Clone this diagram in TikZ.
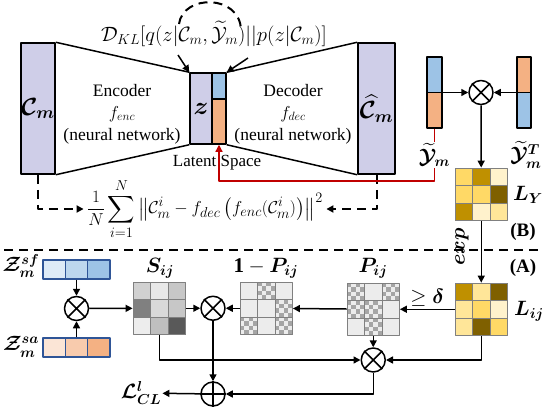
\documentclass[tikz,border=0pt]{standalone}
\usepackage{amsmath,amssymb}
\usepackage{fontspec}
\setmainfont{Liberation Serif}
\usetikzlibrary{arrows.meta,positioning,calc}
\definecolor{latLav}{RGB}{207,206,232}
\definecolor{vecBlue}{RGB}{157,195,230}
\definecolor{vecOrange}{RGB}{244,177,131}
\definecolor{gold0}{RGB}{255,242,204}
\definecolor{gold1}{RGB}{255,230,153}
\definecolor{gold2}{RGB}{255,217,102}
\definecolor{gold3}{RGB}{191,144,0}
\definecolor{gold4}{RGB}{127,96,0}
\definecolor{blue1}{RGB}{222,235,247}
\definecolor{blue2}{RGB}{189,215,238}
\definecolor{blue3}{RGB}{157,195,230}
\definecolor{org1}{RGB}{251,229,214}
\definecolor{org2}{RGB}{248,203,173}
\definecolor{org3}{RGB}{244,177,131}
\definecolor{navy}{RGB}{47,85,151}
\definecolor{gridGray}{RGB}{128,128,128}
\definecolor{cellGray}{RGB}{236,236,236}
\definecolor{chkGray}{RGB}{165,165,165}
\definecolor{redLine}{RGB}{192,0,0}
% cells of a 3x3 matrix, top-left corner #1,#2
\newcommand{\matcells}[3]{%
  \foreach \cx/\cy/\cc in {#3}
    \fill[fill=\cc] ({#1+\cx*17.5},{#2+\cy*17.5}) rectangle ++(17.5,17.5);
}
\newcommand{\chkcells}[3]{%
  \foreach \cx/\cy in {#3} {
    \foreach \a/\b in {0/0,2/0,1/1,3/1,0/2,2/2,1/3,3/3}
      \fill[chkGray] ({#1+\cx*17.5+\a*4.375},{#2+\cy*17.5+\b*4.375}) rectangle ++(4.375,4.375);
  }
}
\newcommand{\matlines}[2]{%
  \foreach \k in {1,2} {
    \draw[gridGray, line width=0.8pt] ({#1+\k*17.5},#2) -- ++(0,52.5);
    \draw[gridGray, line width=0.8pt] (#1,{#2+\k*17.5}) -- ++(52.5,0);
  }
}
\newcommand{\crossin}[1]{\draw[line width=1.5pt] (#1.north west) -- (#1.south east) (#1.north east) -- (#1.south west);}
\newcommand{\plusin}[1]{\draw[line width=1.5pt] (#1.north) -- (#1.south) (#1.east) -- (#1.west);}

\begin{document}
\begin{tikzpicture}[x=1pt, y=-1pt, line join=round,
    font=\fontsize{17}{21}\selectfont,
    lab/.style={font=\fontsize{21}{24}\selectfont, inner sep=1pt},
    box/.style={draw, line width=1.5pt, inner sep=0pt},
    latbox/.style={box, fill=latLav, font=\fontsize{23}{26}\selectfont},
    mulnode/.style={draw, circle, line width=1.5pt, minimum size=24pt, inner sep=0pt},
    gridnode/.style={draw=gridGray, line width=0.8pt, minimum size=52.5pt, inner sep=0pt},
    arr/.style={line width=1.5pt, -{Triangle[length=7pt,width=7pt]}},
    dashline/.style={line width=2pt, dash pattern=on 9pt off 6pt},
    dasharr/.style={dashline, -{Triangle[length=7pt,width=7pt]}}]
    \useasboundingbox (0,0) rectangle (550,410);

    % autoencoder
    \node[latbox, minimum width=34pt, minimum height=131pt] (cm) at (38,108.5) {$\boldsymbol{\mathcal{C}_m}$};
    \node[latbox, minimum width=22pt, minimum height=71pt] (z) at (201,108.5) {$\boldsymbol{z}$};
    \fill[vecBlue] (212,73) rectangle (226,99);
    \fill[vecOrange] (212,99) rectangle (226,144);
    \node[box, minimum width=14pt, minimum height=71pt] (zy) at (219,108.5) {};
    \draw[line width=1.5pt] (212,99) -- (226,99);
    \node[latbox, minimum width=37pt, minimum height=131pt] (hcm) at (376.5,108.5) {$\boldsymbol{\widehat{\mathcal{C}}_m}$};
    \draw[line width=1.5pt] (cm.north east) -- (z.north west) (cm.south east) -- (z.south west);
    \draw[line width=1.5pt] (zy.north east) -- (hcm.north west) (zy.south east) -- (hcm.south west);
    \node[align=center, font=\fontsize{17.5}{22}\selectfont] (enc) at (122,114) {Encoder\\$f_{enc}$\\(neural network)};
    \node[align=center, font=\fontsize{17.5}{22}\selectfont] (dec) at (293,114) {Decoder\\$f_{dec}$\\(neural network)};
    \node (lat) at (217,163) {Latent Space};

    % KL term
    \coordinate (klL) at (179,24);
    \coordinate (klR) at (241,30);
    \draw[dashline] (klL) .. controls (183,-6) and (240,-6) .. (klR);
    \node[font=\fontsize{20}{24}\selectfont] (kl) at (214,34) {$\mathcal{D}_{KL}[q(z|\mathcal{C}_m,\widetilde{\mathcal{Y}}_m)||p(z|\mathcal{C}_m)]$};
    \coordinate (kla) at (178,55);
    \coordinate (klb) at (248,58);
    \draw[arr] (kla) -- (z.north west);
    \draw[arr] (klb) -- (zy.north east);

    % reconstruction term
    \node[font=\fontsize{19}{23}\selectfont] (rec) at (205,209) {$\displaystyle\frac{1}{N}\sum_{i=1}^{N}\left\|\mathcal{C}_m^i-f_{dec}\left(f_{enc}(\mathcal{C}_m^i)\right)\right\|^2$};
    \draw[dasharr] (cm.south) |- (rec.west);
    \draw[dasharr] (hcm.south) |- (rec.east);

    % label vectors
    \fill[vecBlue] (427,57) rectangle (442,92.5);
    \fill[vecOrange] (427,92.5) rectangle (442,128);
    \node[box, minimum width=15pt, minimum height=71pt] (ym) at (434.5,92.5) {};
    \draw[line width=1.5pt] (ym.west) -- (ym.east);
    \fill[vecOrange] (517,57) rectangle (531,92.5);
    \fill[vecBlue] (517,92.5) rectangle (531,128);
    \node[box, minimum width=14pt, minimum height=71pt] (ymt) at (524,92.5) {};
    \draw[line width=1.5pt] (ymt.west) -- (ymt.east);
    \node[lab] (ymlab) at (434.5,155) {$\boldsymbol{\widetilde{\mathcal{Y}}_m}$};
    \node[lab] (ymtlab) at (526,155) {$\boldsymbol{\widetilde{\mathcal{Y}}_m^T}$};
    \node[mulnode] (mY) at (481,92.5) {};
    \crossin{mY}
    \draw[arr] (ym.east) -- (mY.west);
    \draw[arr] (ymt.west) -- (mY.east);
    \coordinate (rc) at (219,181);
    \draw[redLine, line width=1.2pt] (ym.south) -- (ymlab.north);
    \draw[redLine, line width=1.2pt, -{Triangle[length=7pt,width=7pt]}] (ymlab.south) |- (rc) -- (zy.south);

    % L_Y
    \matcells{455}{168}{0/0/gold2, 1/0/gold3, 2/0/gold0, 0/1/gold2, 1/1/gold2, 2/1/gold4, 0/2/gold3, 1/2/gold0, 2/2/gold1}
    \matlines{455}{168}
    \node[gridnode] (LY) at (481.25,194.25) {};
    \node[lab] (LYlab) at (528,195) {$\boldsymbol{L_Y}$};
    \draw[arr] (mY) -- (LY);

    % separator
    \coordinate (sepL) at (4,250);
    \coordinate (sepR) at (541,250);
    \draw[dashline] (sepL) -- (sepR);
    \node[font=\fontsize{19}{22}\selectfont] (Blab) at (523,232) {\textbf{(B)}};
    \node[font=\fontsize{19}{22}\selectfont] (Alab) at (523,268) {\textbf{(A)}};

    % L_ij
    \matcells{455}{283}{0/0/gold3, 1/0/gold1, 2/0/gold4, 0/1/gold1, 1/1/gold2, 2/1/gold0, 0/2/gold1, 1/2/gold4, 2/2/gold2}
    \matlines{455}{283}
    \node[gridnode] (L) at (481.25,309.25) {};
    \node[lab] (Llab) at (529,311) {$\boldsymbol{L_{ij}}$};
    \node[lab, rotate=90] (explab) at (462,247) {$\boldsymbol{exp}$};
    \draw[arr] (LY) -- (L);

    % P_ij and 1-P_ij
    \matcells{347}{283}{0/0/cellGray, 1/0/cellGray, 2/0/cellGray, 0/1/cellGray, 1/1/cellGray, 2/1/cellGray, 0/2/cellGray, 1/2/cellGray, 2/2/cellGray}
    \chkcells{347}{283}{0/0, 2/0, 0/1, 1/1, 1/2}
    \matlines{347}{283}
    \node[gridnode] (P) at (373.25,309.25) {};
    \node[lab] (Plab) at (373,268) {$\boldsymbol{P_{ij}}$};
    \matcells{240}{282}{0/0/cellGray, 1/0/cellGray, 2/0/cellGray, 0/1/cellGray, 1/1/cellGray, 2/1/cellGray, 0/2/cellGray, 1/2/cellGray, 2/2/cellGray}
    \chkcells{240}{282}{1/0, 2/1, 0/2, 2/2}
    \matlines{240}{282}
    \node[gridnode] (Pc) at (266.25,308.25) {};
    \node[lab] (Pclab) at (266,268) {$\mathbf{1}-\boldsymbol{P_{ij}}$};
    \draw[arr] (L) -- node[lab, above=1pt] (dlab) {$\geq\boldsymbol{\delta}$} (P);
    \draw[arr] (P) -- (Pc);

    % S_ij
    \matcells{133}{282}{0/0/black!18, 1/0/black!9, 2/0/black!22, 0/1/black!50, 1/1/black!15, 2/1/black!22, 0/2/black!7, 1/2/black!25, 2/2/black!65}
    \matlines{133}{282}
    \node[gridnode] (S) at (159.25,308.25) {};
    \node[lab] (Slab) at (160,268) {$\boldsymbol{S_{ij}}$};

    % embeddings
    \fill[blue1] (43,260) rectangle (65.33,279);
    \fill[blue2] (65.33,260) rectangle (87.67,279);
    \fill[blue3] (87.67,260) rectangle (110,279);
    \node[draw=navy, line width=1.2pt, minimum width=67pt, minimum height=19pt, inner sep=0pt] (sf) at (76.5,269.5) {};
    \draw[navy, line width=1.2pt] (65.33,260) -- (65.33,279) (87.67,260) -- (87.67,279);
    \fill[org1] (43,338) rectangle (65.33,357);
    \fill[org2] (65.33,338) rectangle (87.67,357);
    \fill[org3] (87.67,338) rectangle (110,357);
    \node[draw=navy, line width=1.2pt, minimum width=67pt, minimum height=19pt, inner sep=0pt] (sa) at (76.5,347.5) {};
    \draw[navy, line width=1.2pt] (65.33,338) -- (65.33,357) (87.67,338) -- (87.67,357);
    \node[lab] (sflab) at (21,266) {$\boldsymbol{\mathcal{Z}_m^{sf}}$};
    \node[lab] (salab) at (21,347) {$\boldsymbol{\mathcal{Z}_m^{sa}}$};

    % products and sum
    \node[mulnode] (m0) at (76.5,308.5) {};
    \crossin{m0}
    \node[mulnode] (mS) at (213,308.25) {};
    \crossin{mS}
    \node[mulnode] (mP) at (373.25,360) {};
    \crossin{mP}
    \node[mulnode] (add) at (213,394) {};
    \plusin{add}
    \node[lab] (lcl) at (141,393) {$\boldsymbol{\mathcal{L}_{CL}^l}$};

    \draw[arr] (sf) -- (m0);
    \draw[arr] (sa) -- (m0);
    \draw[arr] (m0) -- (S);
    \draw[arr] (S) -- (mS);
    \draw[arr] (Pc) -- (mS);
    \draw[arr] (S.south) |- (mP.west);
    \draw[arr] (P) -- (mP);
    \draw[arr] (L.south) |- (mP.east);
    \draw[arr] (mS) -- (add);
    \draw[arr] (mP.south) |- (add.east);
    \draw[arr] (add) -- (lcl);
\end{tikzpicture}
\end{document}
